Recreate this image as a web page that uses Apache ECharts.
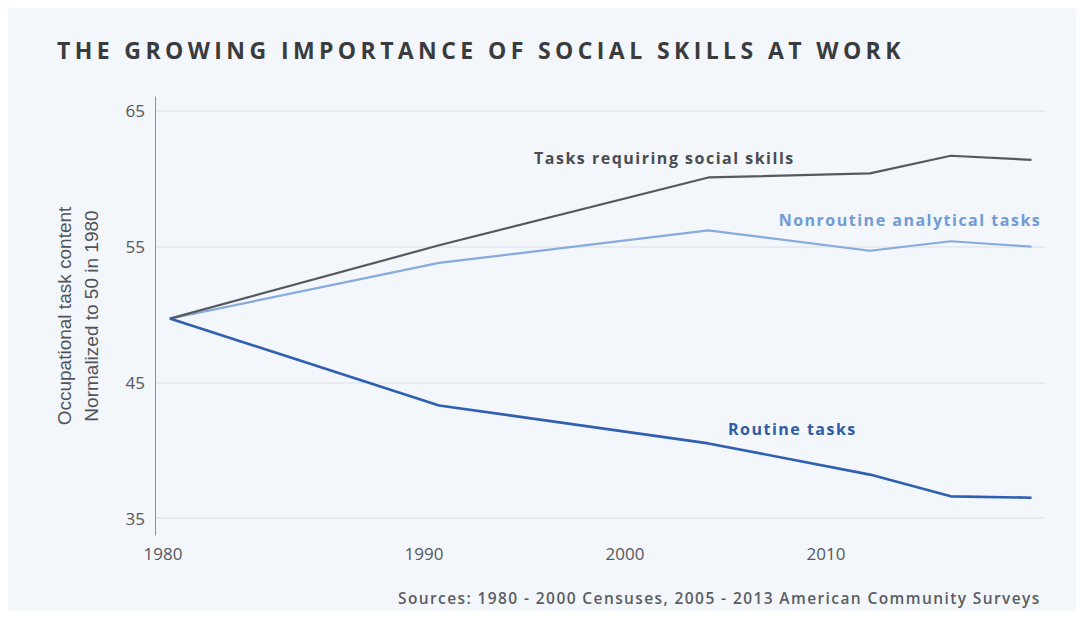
<!DOCTYPE html>
<html>
<head>
<meta charset="utf-8">
<script src="https://cdn.jsdelivr.net/npm/echarts@6/dist/echarts.min.js"></script>
<style>
  html, body { margin: 0; padding: 0; background: #ffffff; }
  #chart { width: 1083px; height: 619px; }
  #chart text[style*="Lato"], #chart text[font-family*="Lato"] { letter-spacing: 4.4px; }
  #chart text[style*="Inter"], #chart text[font-family*="Inter"] { letter-spacing: 1.5px; }
  #chart text[style*="Roboto"], #chart text[font-family*="Roboto"] { letter-spacing: 1.4px; }
</style>
</head>
<body>
<div id="chart"></div>
<script>
// ---- data ----
const years = [1980, 1990, 2000, 2006, 2009, 2012];
const socialSkills = [49.7, 55.1, 60.1, 60.4, 61.7, 61.4];
const nonroutineAnalytical = [49.7, 53.8, 56.2, 54.7, 55.4, 55.0];
const routineTasks = [49.7, 43.3, 40.5, 38.2, 36.6, 36.5];
const xTickLabels = [1980, 1990, 2000, 2010];
const yTickLabels = [35, 45, 55, 65];
const seriesNames = ['Tasks requiring social skills', 'Nonroutine analytical tasks', 'Routine tasks'];
const titleText = 'THE GROWING IMPORTANCE OF SOCIAL SKILLS AT WORK';
const yAxisName = 'Occupational task content\nNormalized to 50 in 1980';
const sourceText = 'Sources: 1980 - 2000 Censuses, 2005 - 2013 American Community Surveys';

function build(values, labelIdx, labelStyle) {
  return years.map((y, i) => {
    const item = { value: [y, values[i]] };
    if (i === labelIdx) item.label = Object.assign({ show: true }, labelStyle);
    return item;
  });
}

const chart = echarts.init(document.getElementById('chart'), null, { renderer: 'svg' });
const baseFont = '"Open Sans", "Noto Sans", sans-serif';
const labelFont = '"Open Sans", Inter, sans-serif';

chart.setOption({
  backgroundColor: '#ffffff',
  animation: false,
  graphic: [{
    type: 'rect', z: -10, silent: true,
    shape: { x: 8, y: 8, width: 1068, height: 603 },
    style: { fill: '#f3f6fb' }
  }],
  title: [{
    text: titleText,
    left: 52, top: 33,
    textStyle: { fontFamily: '"Open Sans", Lato, sans-serif', fontWeight: 'bold', fontSize: 23, color: '#3a3b3d' }
  }, {
    text: sourceText,
    left: 393, top: 585,
    textStyle: { fontFamily: '"Open Sans", Roboto, sans-serif', fontWeight: 600, fontSize: 15.5, color: '#5a5d62' }
  }],
  grid: { left: 155, right: 38, top: 97, bottom: 84, containLabel: false },
  xAxis: [{
    type: 'value', min: 1979.45, max: 2012.5, show: false
  }, {
    type: 'value', min: 1976.62, max: 2020.9, position: 'bottom',
    axisLine: { show: false }, axisTick: { show: false }, splitLine: { show: false },
    axisLabel: {
      customValues: xTickLabels, margin: 10,
      fontFamily: baseFont, fontSize: 17, color: '#55585d',
      formatter: v => v === xTickLabels[0] ? '{first|' + v + '}' : String(v),
      rich: { first: { padding: [0, 120, 0, 0], fontFamily: baseFont, fontSize: 17, color: '#55585d' } }
    }
  }],
  yAxis: {
    type: 'value', min: 33.75, max: 66.03,
    name: yAxisName, nameLocation: 'middle', nameRotate: 90, nameGap: 50,
    nameTextStyle: { fontFamily: '"Liberation Sans Narrow", "Liberation Sans", sans-serif', fontSize: 19, color: '#505358', lineHeight: 27, align: 'center' },
    axisLine: { show: true, lineStyle: { color: '#8d929b', width: 1 } },
    axisTick: { show: false, customValues: yTickLabels },
    axisLabel: { customValues: yTickLabels, margin: 10, fontFamily: baseFont, fontSize: 17, color: '#55585d' },
    splitLine: { show: true, lineStyle: { color: '#e3e7ee', width: 1.5 } }
  },
  series: [{
    name: seriesNames[0], type: 'line', xAxisIndex: 0, showSymbol: true, symbol: 'circle', symbolSize: 0,
    lineStyle: { color: '#55595f', width: 2.2 }, itemStyle: { color: '#55595f' }, z: 3,
    data: build(socialSkills, 2, {
      formatter: seriesNames[0], position: 'top', offset: [-44, -6],
      fontFamily: labelFont, fontWeight: 'bold', fontSize: 16, color: '#4a4c50'
    })
  }, {
    name: seriesNames[1], type: 'line', xAxisIndex: 0, showSymbol: true, symbol: 'circle', symbolSize: 0,
    lineStyle: { color: '#86aadb', width: 2.2 }, itemStyle: { color: '#86aadb' }, z: 2,
    data: build(nonroutineAnalytical, 3, {
      formatter: seriesNames[1], position: 'top', offset: [40, -18],
      fontFamily: labelFont, fontWeight: 'bold', fontSize: 16, color: '#6f9bd6'
    })
  }, {
    name: seriesNames[2], type: 'line', xAxisIndex: 0, showSymbol: true, symbol: 'circle', symbolSize: 0,
    lineStyle: { color: '#2f5fb0', width: 2.6 }, itemStyle: { color: '#2f5fb0' }, z: 4,
    data: build(routineTasks, 2, {
      formatter: seriesNames[2], position: 'top', offset: [84, -1],
      fontFamily: labelFont, fontWeight: 'bold', fontSize: 16, color: '#2e5ba6'
    })
  }]
});
</script>
</body>
</html>
